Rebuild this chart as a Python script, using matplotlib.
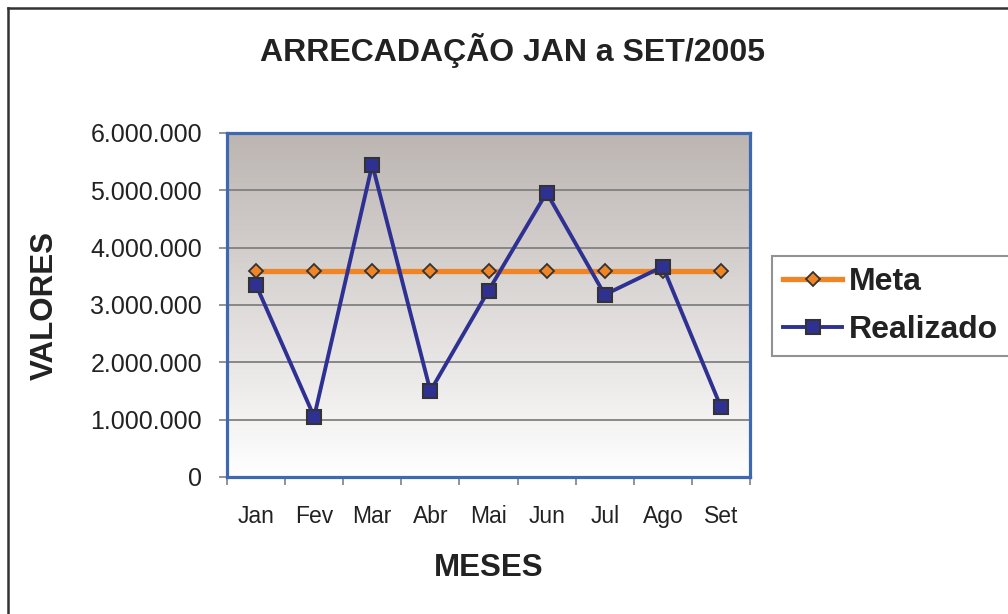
import matplotlib
matplotlib.use("Agg")
import matplotlib.pyplot as plt
import numpy as np
from matplotlib.lines import Line2D

plt.rcParams['font.family'] = ['Liberation Sans', 'DejaVu Sans']

# ---- data ----
months = ["Jan", "Fev", "Mar", "Abr", "Mai", "Jun", "Jul", "Ago", "Set"]
meta = [3600000, 3600000, 3600000, 3600000, 3600000, 3600000, 3600000, 3600000, 3600000]
realizado = [3350000, 1050000, 5450000, 1500000, 3250000, 4960000, 3180000, 3670000, 1220000]
y_ticks = [0, 1000000, 2000000, 3000000, 4000000, 5000000, 6000000]
y_tick_labels = ["0", "1.000.000", "2.000.000", "3.000.000", "4.000.000", "5.000.000", "6.000.000"]
title = "ARRECADAÇÃO JAN a SET/2005"

W, H = 1008, 614
fig = plt.figure(figsize=(W / 100, H / 100), dpi=100)
fig.patch.set_facecolor("white")

ax = fig.add_axes([227 / W, 1 - 477 / H, 523 / W, 344 / H])
x = np.arange(len(months))

# gradient background
grad = np.linspace(0, 1, 256).reshape(-1, 1)
top = np.array([0.737, 0.710, 0.698])
bot = np.array([1.0, 1.0, 1.0])
img = top[None, None, :] * (1 - grad[:, :, None]) + bot[None, None, :] * grad[:, :, None]
ax.imshow(img, extent=[0, 1, 0, 1], transform=ax.transAxes, aspect="auto", zorder=0)

ax.set_xlim(-0.5, len(months) - 0.5)
ax.set_ylim(0, 6000000)

for yv in y_ticks[1:-1]:
    ax.axhline(yv, color="#808080", lw=1.3, zorder=1)

ax.plot(x, meta, color="#f08526", lw=3.8, marker="D", markersize=7.5,
        markerfacecolor="#f08526", markeredgecolor="#333333", markeredgewidth=1.3,
        zorder=3, label="Meta")
ax.plot(x, realizado, color="#2e3192", lw=2.8, marker="s", markersize=10.5,
        markerfacecolor="#2e3192", markeredgecolor="#333333", markeredgewidth=1.5,
        zorder=4, label="Realizado")

ax.set_yticks(y_ticks)
ax.set_yticklabels(y_tick_labels, fontsize=18, color="#222222")
ax.set_xticks(x)
ax.set_xticklabels(months, fontsize=16.5, color="#222222")
ax.set_xticks(np.arange(-0.5, len(months), 1.0), minor=True)
ax.tick_params(axis="x", which="major", length=0, pad=20)
ax.tick_params(axis="x", which="minor", length=6, width=1.2, color="#808080", direction="out")
ax.tick_params(axis="y", length=6, width=1.2, color="#808080", direction="out", pad=12)

for s in ax.spines.values():
    s.set_color("#3e69b1")
    s.set_linewidth(2.3)
    s.set_zorder(5)

fig.text(512 / W, 1 - 50 / H, title, ha="center", va="center", fontsize=23,
         fontweight="bold", color="#222222")
fig.text(45 / W, 1 - 305 / H, "VALORES", ha="center", va="center", rotation=90,
         fontsize=22.5, fontweight="bold", color="#222222")
fig.text(489 / W, 1 - 568 / H, "MESES", ha="center", va="center",
         fontsize=22.5, fontweight="bold", color="#222222")

h, l = ax.get_legend_handles_labels()
leg = fig.legend(h, l, loc="upper left",
                 bbox_to_anchor=(772 / W, 1 - 355 / H, 300 / W, 99 / H),
                 mode="expand", prop={"size": 23, "weight": "bold"},
                 frameon=True, fancybox=False, edgecolor="#777777",
                 borderpad=0.35, labelspacing=0.55, handlelength=1.85,
                 handletextpad=0.2, borderaxespad=0.0, numpoints=1)
leg.get_frame().set_linewidth(1.5)
for t in leg.get_texts():
    t.set_color("#222222")

# outer frame (top and left edges)
fig.add_artist(Line2D([8 / W, 1.0], [1 - 8 / H, 1 - 8 / H], transform=fig.transFigure,
                      color="#333333", lw=1.8))
fig.add_artist(Line2D([8 / W, 8 / W], [1 - 8 / H, 0.0], transform=fig.transFigure,
                      color="#333333", lw=1.8))

fig.savefig("out.png", dpi=100)
